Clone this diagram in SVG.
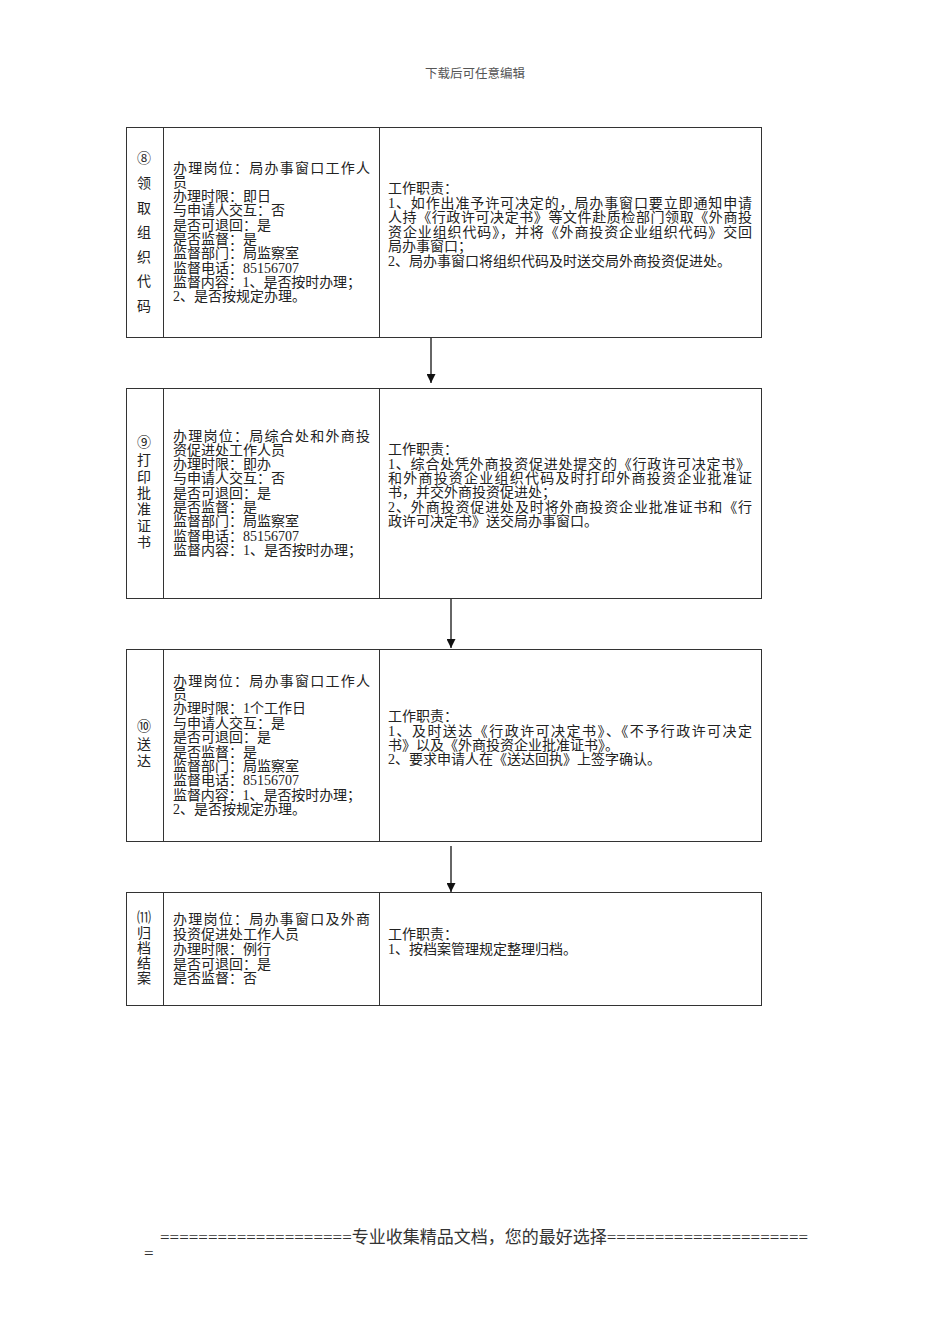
<svg xmlns="http://www.w3.org/2000/svg" width="950" height="1344" viewBox="0 0 950 1344">
<style>
.t{font-family:"Liberation Serif","Noto Sans CJK SC",serif;font-size:14px;fill:#222}
.v{font-family:"Liberation Serif","Noto Sans CJK SC",serif;font-size:14px;fill:#222;text-anchor:middle}
.box{fill:#fff;stroke:#333;stroke-width:1}
.div{stroke:#333;stroke-width:1}
.hdr{font-family:"Liberation Serif","Noto Sans CJK SC",serif;font-size:12.5px;fill:#555;text-anchor:middle}
.ftr{font-family:"Liberation Serif","Noto Sans CJK SC",serif;font-size:17px;fill:#333}
.conn{stroke:#333;stroke-width:1.5;fill:none}
</style>
<defs>
<marker id="ah" viewBox="0 0 10 10" refX="10" refY="5" markerWidth="9" markerHeight="9" markerUnits="userSpaceOnUse" orient="auto">
<path d="M0,0 L10,5 L0,10 Z" fill="#111"/>
</marker>
</defs>
<rect width="950" height="1344" fill="#fff"/>
<text class="hdr" x="475" y="78">下载后可任意编辑</text>

<g id="node8">
<rect class="box" x="126.5" y="127.5" width="635" height="210"/>
<line class="div" x1="163.5" y1="127.5" x2="163.5" y2="337.5"/>
<line class="div" x1="379.5" y1="127.5" x2="379.5" y2="337.5"/>
<text class="v" x="144" y="163">⑧</text>
<text class="v" x="144" y="188">领</text>
<text class="v" x="144" y="213">取</text>
<text class="v" x="144" y="237">组</text>
<text class="v" x="144" y="262">织</text>
<text class="v" x="144" y="286">代</text>
<text class="v" x="144" y="311">码</text>
<text class="t" x="173" y="173" textLength="197" lengthAdjust="spacing">办理岗位：局办事窗口工作人</text>
<text class="t" x="173" y="187">员</text>
<text class="t" x="173" y="201">办理时限：即日</text>
<text class="t" x="173" y="215">与申请人交互：否</text>
<text class="t" x="173" y="230">是否可退回：是</text>
<text class="t" x="173" y="244">是否监督：是</text>
<text class="t" x="173" y="258">监督部门：局监察室</text>
<text class="t" x="173" y="273">监督电话：85156707</text>
<text class="t" x="173" y="287" textLength="188" lengthAdjust="spacing">监督内容：1、是否按时办理；</text>
<text class="t" x="173" y="301">2、是否按规定办理。</text>
<text class="t" x="388" y="193">工作职责：</text>
<text class="t" x="388" y="208" textLength="364" lengthAdjust="spacing">1、如作出准予许可决定的，局办事窗口要立即通知申请</text>
<text class="t" x="388" y="222" textLength="364" lengthAdjust="spacing">人持《行政许可决定书》等文件赴质检部门领取《外商投</text>
<text class="t" x="388" y="237" textLength="364" lengthAdjust="spacing">资企业组织代码》，并将《外商投资企业组织代码》交回</text>
<text class="t" x="388" y="251">局办事窗口；</text>
<text class="t" x="388" y="266">2、局办事窗口将组织代码及时送交局外商投资促进处。</text>
</g>

<g id="node9">
<rect class="box" x="126.5" y="388.5" width="635" height="210"/>
<line class="div" x1="163.5" y1="388.5" x2="163.5" y2="598.5"/>
<line class="div" x1="379.5" y1="388.5" x2="379.5" y2="598.5"/>
<text class="v" x="144" y="447">⑨</text>
<text class="v" x="144" y="465">打</text>
<text class="v" x="144" y="482">印</text>
<text class="v" x="144" y="498">批</text>
<text class="v" x="144" y="514">准</text>
<text class="v" x="144" y="531">证</text>
<text class="v" x="144" y="547">书</text>
<text class="t" x="173" y="441" textLength="197" lengthAdjust="spacing">办理岗位：局综合处和外商投</text>
<text class="t" x="173" y="455">资促进处工作人员</text>
<text class="t" x="173" y="469">办理时限：即办</text>
<text class="t" x="173" y="483">与申请人交互：否</text>
<text class="t" x="173" y="498">是否可退回：是</text>
<text class="t" x="173" y="512">是否监督：是</text>
<text class="t" x="173" y="526">监督部门：局监察室</text>
<text class="t" x="173" y="541">监督电话：85156707</text>
<text class="t" x="173" y="555">监督内容：1、是否按时办理；</text>
<text class="t" x="388" y="454">工作职责：</text>
<text class="t" x="388" y="469" textLength="362" lengthAdjust="spacing">1、综合处凭外商投资促进处提交的《行政许可决定书》</text>
<text class="t" x="388" y="483" textLength="364" lengthAdjust="spacing">和外商投资企业组织代码及时打印外商投资企业批准证</text>
<text class="t" x="388" y="497">书，并交外商投资促进处；</text>
<text class="t" x="388" y="512" textLength="364" lengthAdjust="spacing">2、外商投资促进处及时将外商投资企业批准证书和《行</text>
<text class="t" x="388" y="526">政许可决定书》送交局办事窗口。</text>
</g>

<g id="node10">
<rect class="box" x="126.5" y="649.5" width="635" height="192"/>
<line class="div" x1="163.5" y1="649.5" x2="163.5" y2="841.5"/>
<line class="div" x1="379.5" y1="649.5" x2="379.5" y2="841.5"/>
<text class="v" x="144" y="731">⑩</text>
<text class="v" x="144" y="749">送</text>
<text class="v" x="144" y="766">达</text>
<text class="t" x="173" y="686" textLength="197" lengthAdjust="spacing">办理岗位：局办事窗口工作人</text>
<text class="t" x="173" y="699">员</text>
<text class="t" x="173" y="713">办理时限：1个工作日</text>
<text class="t" x="173" y="728">与申请人交互：是</text>
<text class="t" x="173" y="742">是否可退回：是</text>
<text class="t" x="173" y="757">是否监督：是</text>
<text class="t" x="173" y="771">监督部门：局监察室</text>
<text class="t" x="173" y="785">监督电话：85156707</text>
<text class="t" x="173" y="800" textLength="188" lengthAdjust="spacing">监督内容：1、是否按时办理；</text>
<text class="t" x="173" y="814">2、是否按规定办理。</text>
<text class="t" x="388" y="721">工作职责：</text>
<text class="t" x="388" y="736" textLength="364" lengthAdjust="spacing">1、及时送达《行政许可决定书》、《不予行政许可决定</text>
<text class="t" x="388" y="750">书》以及《外商投资企业批准证书》。</text>
<text class="t" x="388" y="764">2、要求申请人在《送达回执》上签字确认。</text>
</g>

<g id="node11">
<rect class="box" x="126.5" y="892.5" width="635" height="113"/>
<line class="div" x1="163.5" y1="892.5" x2="163.5" y2="1005.5"/>
<line class="div" x1="379.5" y1="892.5" x2="379.5" y2="1005.5"/>
<text class="v" x="144" y="922">⑾</text>
<text class="v" x="144" y="938">归</text>
<text class="v" x="144" y="953">档</text>
<text class="v" x="144" y="968">结</text>
<text class="v" x="144" y="983">案</text>
<text class="t" x="173" y="924" textLength="197" lengthAdjust="spacing">办理岗位：局办事窗口及外商</text>
<text class="t" x="173" y="939">投资促进处工作人员</text>
<text class="t" x="173" y="954">办理时限：例行</text>
<text class="t" x="173" y="969">是否可退回：是</text>
<text class="t" x="173" y="983">是否监督：否</text>
<text class="t" x="388" y="939">工作职责：</text>
<text class="t" x="388" y="954">1、按档案管理规定整理归档。</text>
</g>

<g id="connectors">
<line class="conn" x1="431" y1="338" x2="431" y2="383" marker-end="url(#ah)"/>
<line class="conn" x1="451" y1="599" x2="451" y2="648" marker-end="url(#ah)"/>
<line class="conn" x1="451" y1="846" x2="451" y2="892" marker-end="url(#ah)"/>
</g>

<text class="ftr" x="160" y="1243">====================专业收集精品文档，您的最好选择=====================</text>
<text class="ftr" x="144" y="1259">=</text>
</svg>
